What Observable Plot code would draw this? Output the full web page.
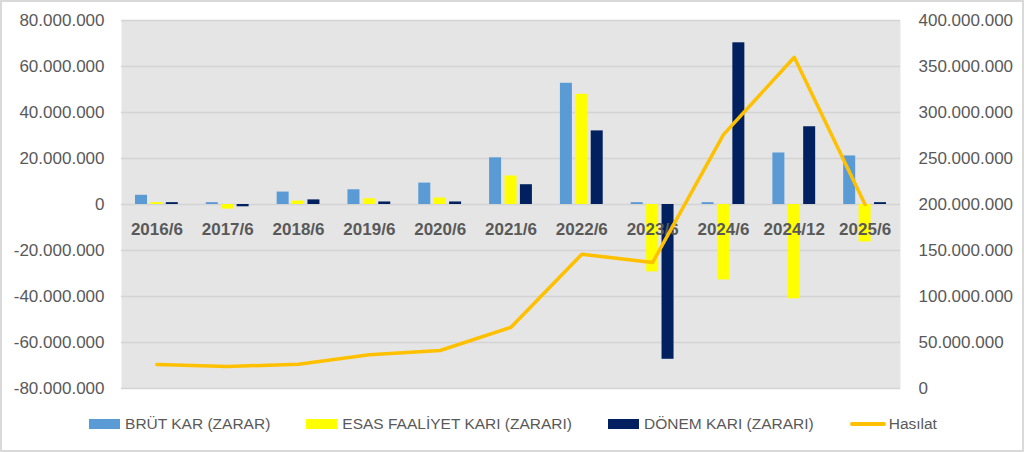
<!DOCTYPE html>
<html>
<head>
<meta charset="utf-8">
<script src="https://cdn.jsdelivr.net/npm/d3@7"></script>
<script src="https://cdn.jsdelivr.net/npm/@observablehq/plot@0.6"></script>
<style>
  html, body { margin: 0; padding: 0; background: #fff; }
  #wrap { position: relative; width: 1024px; height: 452px; overflow: hidden; font-family: "Liberation Sans", Arial, sans-serif; }
  #frame { position: absolute; left: 0; top: 0; right: 0; bottom: 0; border: 2px solid #d9d9d9; pointer-events: none; box-sizing: border-box; }
  #legend { position: absolute; left: 0; top: 400px; width: 1024px; height: 48px; display: flex; justify-content: center; align-items: center; gap: 36px; font-size: 15.5px; color: #595959; padding-left: 2px; box-sizing: border-box; }
  .item { display: flex; align-items: center; }
  .sw { width: 31px; height: 10px; margin-right: 5px; }
  .ln { width: 36px; height: 4px; border-radius: 2px; margin-right: 3px; }
</style>
</head>
<body>
<div id="wrap">
  <div id="chart"></div>
  <div id="legend"></div>
  <div id="frame"></div>
</div>
<script>
const categories = ["2016/6","2017/6","2018/6","2019/6","2020/6","2021/6","2022/6","2023/6","2024/6","2024/12","2025/6"];
const brut    = [4000000, 800000, 5400000, 6400000, 9300000, 20300000, 52700000, 800000, 800000, 22400000, 21100000];
const esas    = [800000, -2000000, 1500000, 2500000, 2800000, 12400000, 47900000, -29300000, -32800000, -41000000, -16300000];
const donem   = [800000, -1000000, 2000000, 1100000, 1100000, 8600000, 32000000, -67300000, 70300000, 33800000, 800000];
const hasilat = [26100000, 23900000, 26400000, 36600000, 41300000, 66600000, 146000000, 137000000, 276000000, 360000000, 200000000];
const leftTicks  = [-80000000, -60000000, -40000000, -20000000, 0, 20000000, 40000000, 60000000, 80000000];
const rightTicks = [0, 50000000, 100000000, 150000000, 200000000, 250000000, 300000000, 350000000, 400000000];
const seriesNames = ["BRÜT KAR (ZARAR)", "ESAS FAALİYET KARI (ZARARI)", "DÖNEM KARI (ZARARI)", "Hasılat"];
const colors = ["#5b9bd5", "#ffff00", "#002060", "#ffc000"];

const loc = d3.formatLocale({decimal: ",", thousands: ".", grouping: [3], currency: ["", ""], minus: "-"});
const fmt = loc.format(",d");

// right axis [0, 400M] mapped onto left axis [-80M, 80M]
const rightDomain = [0, 400000000];
const leftDomain = [-80000000, 80000000];
const toLeft = v => leftDomain[0] + (v - rightDomain[0]) * (leftDomain[1] - leftDomain[0]) / (rightDomain[1] - rightDomain[0]);

const W = 1024, H = 400, ML = 121, MR = 124, MT = 20, MB = 12;
const bw = (W - ML - MR) / categories.length;
const barW = 12, step = 15.4;
const inset = (bw - barW) / 2;

const rows = categories.map((c, i) => ({c, brut: brut[i], esas: esas[i], donem: donem[i], hasilat: hasilat[i]}));

const chart = Plot.plot({
  width: W, height: H,
  marginLeft: ML, marginRight: MR, marginTop: MT, marginBottom: MB,
  style: {fontFamily: "Liberation Sans, Arial, sans-serif", background: "transparent", overflow: "visible"},
  x: {domain: categories, padding: 0, round: false, axis: null},
  y: {domain: leftDomain, axis: null},
  marks: [
    Plot.frame({fill: "#e5e5e5", stroke: null}),
    Plot.gridY(leftTicks, {stroke: "#d4d4d4", strokeOpacity: 1, strokeWidth: 1.5}),
    Plot.axisY(leftTicks, {tickSize: 0, tickPadding: 17, tickFormat: fmt, fontSize: 17, fill: "#595959", label: null}),
    Plot.text(rightTicks, {y: d => toLeft(d), text: d => fmt(d), frameAnchor: "right", textAnchor: "start", dx: 18, fontSize: 17, fill: "#595959"}),
    Plot.barY(rows, {x: "c", y: "brut", fill: colors[0], insetLeft: inset, insetRight: inset, dx: -step}),
    Plot.barY(rows, {x: "c", y: "esas", fill: colors[1], insetLeft: inset, insetRight: inset}),
    Plot.barY(rows, {x: "c", y: "donem", fill: colors[2], insetLeft: inset, insetRight: inset, dx: step}),
    Plot.text(rows, {x: "c", y: () => 0, text: "c", dy: 25, fontSize: 17, fontWeight: "bold", fill: "#595959"}),
    Plot.line(rows, {x: "c", y: d => toLeft(d.hasilat), stroke: colors[3], strokeWidth: 3.5, strokeLinejoin: "round", strokeLinecap: "round"})
  ]
});
document.getElementById("chart").appendChild(chart);

const legend = document.getElementById("legend");
seriesNames.forEach((name, i) => {
  const item = document.createElement("div");
  item.className = "item";
  const sw = document.createElement("span");
  sw.className = i === 3 ? "ln" : "sw";
  sw.style.background = colors[i];
  const t = document.createElement("span");
  t.textContent = name;
  item.appendChild(sw);
  item.appendChild(t);
  legend.appendChild(item);
});
</script>
</body>
</html>
